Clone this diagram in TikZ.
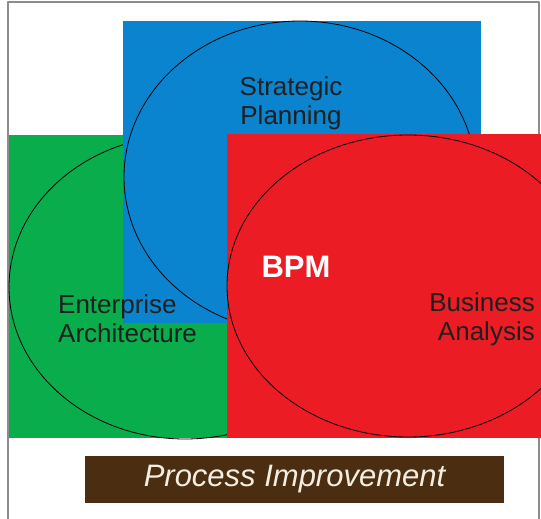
\documentclass[tikz,border=0pt]{standalone}
\usepackage{fontspec}
\setmainfont{Liberation Sans}
\definecolor{spblue}{HTML}{0A84CE}
\definecolor{eagreen}{HTML}{0AAD4B}
\definecolor{bared}{HTML}{EC1C24}
\definecolor{pibrown}{HTML}{4B2E12}
\definecolor{pitext}{HTML}{F4EEE2}
\definecolor{frgray}{HTML}{8C8C8C}
\begin{document}
\begin{tikzpicture}[x=1pt,y=-1pt,line join=round,line cap=round,
	lbl/.style={font=\fontsize{26}{29}\selectfont,text=black!88,inner sep=0pt},
	ring/.style={draw=black,line width=0.8pt}]
	\useasboundingbox (0,0) rectangle (541,519);
	\clip (0,0) rectangle (541,519);
	\coordinate (G) at (185,287);
	\coordinate (B) at (300,177);
	\coordinate (R) at (408,286);
	\draw[frgray,line width=1.2pt] (8,530)--(8,2)--(539,2)--(539,530);
	\fill[eagreen] (9,135) rectangle (227,438);
	\draw[ring] (G) ellipse [x radius=176pt,y radius=152pt];
	\fill[spblue] (123,21) rectangle (481,323);
	\draw[ring] (B) ellipse [x radius=176pt,y radius=156pt];
	\fill[bared] (227,134) rectangle (545,438);
	\draw[ring] (R) ellipse [x radius=181pt,y radius=151pt];
	\node[lbl,align=center] (sp) at (291,103) {Strategic\\Planning};
	\node[lbl,align=left,anchor=west] (ea) at (58,319) {Enterprise\\Architecture};
	\node[lbl,align=right,anchor=east] (ba) at (535,319) {Business\\Analysis};
	\node[font=\fontsize{31}{31}\selectfont\bfseries,text=white,inner sep=0pt] (bpm) at (296,267) {BPM};
	\node[fill=pibrown,text=pitext,minimum width=419pt,minimum height=47pt,inner sep=0pt,
		font=\fontsize{31}{31}\selectfont\itshape] (pi) at (294.5,479.5) {Process Improvement};
\end{tikzpicture}
\end{document}
